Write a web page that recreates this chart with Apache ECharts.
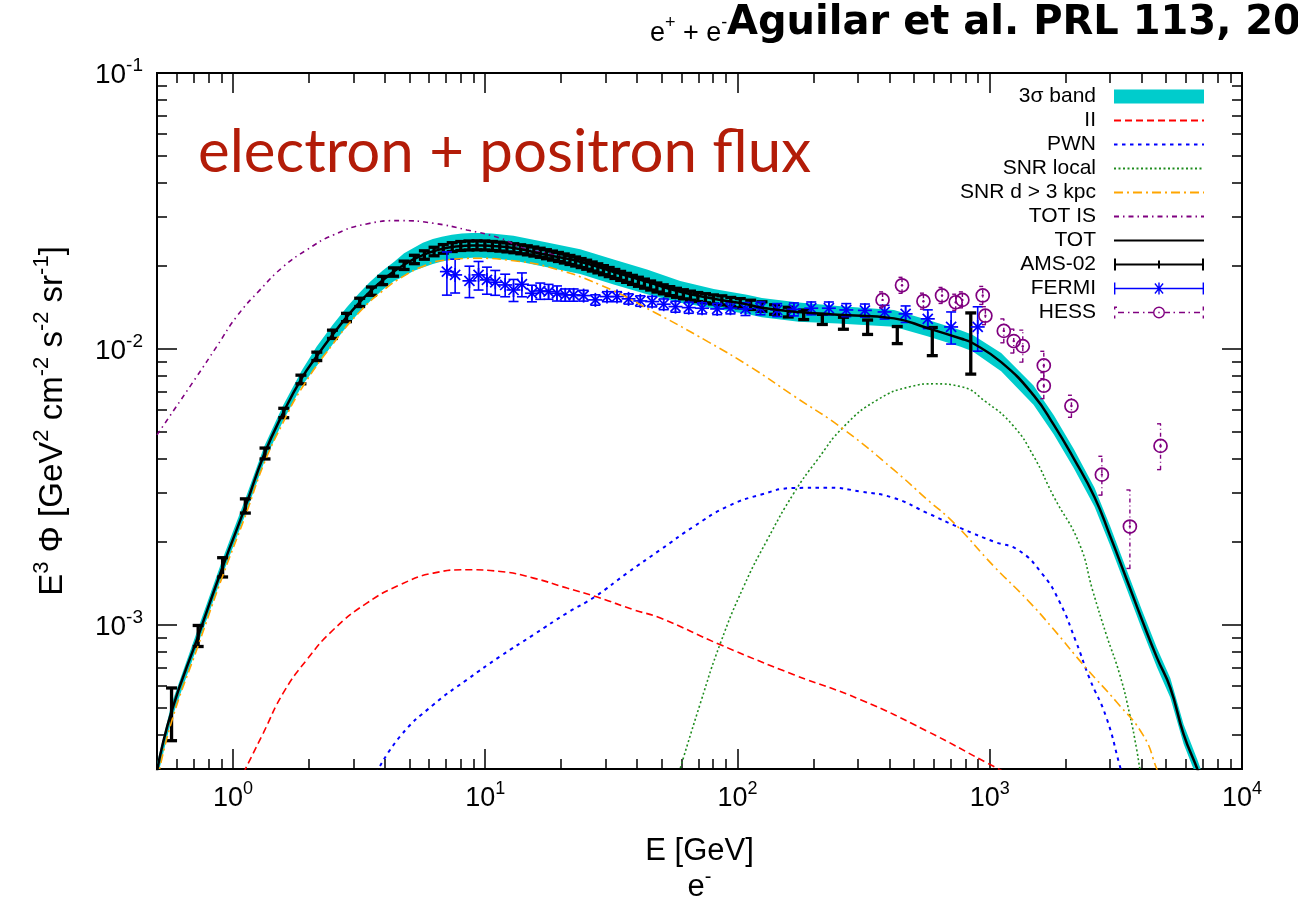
<!DOCTYPE html>
<html><head><meta charset="utf-8">
<script src="https://cdn.jsdelivr.net/npm/echarts@6/dist/echarts.min.js"></script>
<style>html,body{margin:0;padding:0;background:#fff}#c{width:1298px;height:908px}</style>
</head><body><div id="c"></div>
<script>
// ---------- axis ticks ----------
const xMajorTicks = [1, 10, 100, 1000, 10000];
const xMinorTicks = [0.6,0.7,0.8,0.9,2,3,4,5,6,7,8,9,20,30,40,50,60,70,80,90,200,300,400,500,600,700,800,900,2000,3000,4000,5000,6000,7000,8000,9000];
const yMajorTicks = [0.001, 0.01, 0.1];
const yMinorTicks = [4e-4,5e-4,6e-4,7e-4,8e-4,9e-4,0.002,0.003,0.004,0.005,0.006,0.007,0.008,0.009,0.02,0.03,0.04,0.05,0.06,0.07,0.08,0.09];

// ---------- model curves ----------
const totE = [0.5,0.571,0.728,0.91,1.12,1.33,1.58,1.874,2.148,2.487,2.827,3.162,3.498,3.913,4.355,4.77,5.194,5.66,6.2,6.73,7.38,8.08,8.86,9.7,10.63,12.95,17.6,23.8,32.3,43.8,59.3,80.5,109,125,175,250,417,566,767,854,1110,1491,1795,2154,2603,3000,3500,4000,4600,5200,5875,6650,7500];
const totF = [2.95e-4,4.85e-4,9.1e-4,1.62e-3,2.68e-3,4.15e-3,5.85e-3,7.83e-3,9.4e-3,0.01127,0.01306,0.01469,0.01614,0.0177,0.0191,0.02018,0.02109,0.02188,0.02254,0.02301,0.02339,0.0236,0.02371,0.02371,0.0236,0.0232,0.0219,0.0207,0.019,0.0175,0.0161,0.0152,0.0145,0.0141,0.0136,0.0133,0.0129,0.0119,0.0109,0.0105,0.00895,0.0068,0.0053,0.004,0.0029,0.0021,0.00145,0.00105,0.00076,0.00059,0.0004,0.0003,0.00022];
const bandLow = [2.76e-4,4.55e-4,8.53e-4,1.52e-3,2.51e-3,3.89e-3,5.48e-3,7.34e-3,8.67e-3,0.0104,0.01205,0.01355,0.01489,0.01633,0.01762,0.01835,0.01917,0.01973,0.02032,0.02075,0.02109,0.02128,0.02138,0.02138,0.02128,0.02092,0.01975,0.01867,0.01713,0.01578,0.0147,0.01402,0.01338,0.01301,0.01255,0.01237,0.01203,0.0111,0.01017,0.0098,0.00829,0.00627,0.00489,0.00369,0.00268,0.00194,0.00134,0.000969,0.000701,0.000544,0.000369,0.000277,0.000203];
const bandHigh = [3.15e-4,5.17e-4,9.71e-4,1.73e-3,2.86e-3,4.43e-3,6.24e-3,8.35e-3,0.01019,0.01222,0.01416,0.01592,0.0175,0.01919,0.0207,0.0222,0.0232,0.02426,0.025,0.02552,0.02594,0.02617,0.02629,0.02629,0.02617,0.02573,0.02429,0.02296,0.02107,0.01941,0.01763,0.01648,0.01572,0.01528,0.01474,0.0143,0.01383,0.01276,0.01168,0.01126,0.00967,0.00737,0.00575,0.00434,0.00314,0.00228,0.00157,0.001138,0.000824,0.00064,0.000434,0.000325,0.000238];

const iiE = [1.1,1.319,1.583,1.961,2.5,3.393,4.6,6.23,8.46,11.47,15.55,21.1,27.8,38.8,49.5,85.6,167.3,307.6,566,979,1200];
const iiF = [2.9e-4,4.05e-4,5.66e-4,7.46e-4,9.59e-4,1.198e-3,1.396e-3,1.539e-3,1.582e-3,1.56e-3,1.476e-3,1.358e-3,1.26e-3,1.133e-3,1.057e-3,8.46e-4,6.59e-4,5.35e-4,4.11e-4,3.15e-4,2.86e-4];

const pwnE = [3.7,4.6,6.23,8.46,11.47,15.55,21.1,27.3,36.5,49.5,67.1,91,123.4,167.3,227,307.6,417,566,767,1040,1301,1614,1882,2194,2485,2897,3278,3400];
const pwnF = [2.9e-4,3.94e-4,5.13e-4,6.32e-4,7.68e-4,9.2e-4,1.103e-3,1.266e-3,1.539e-3,1.87e-3,2.27e-3,2.68e-3,2.96e-3,3.13e-3,3.14e-3,3.04e-3,2.88e-3,2.54e-3,2.24e-3,2.0e-3,1.862e-3,1.53e-3,1.222e-3,8.72e-4,6.4e-4,4.62e-4,3.08e-4,2.73e-4];

const snrLocalE = [58,71.3,85.6,105.9,131.2,167.3,207.2,264.2,358.4,486,601,767,967,1238,1491,1795,2265,2560,2897,3278,3594,3820,3937,4050];
const snrLocalF = [2.82e-4,5.2e-4,8.58e-4,1.377e-3,2.03e-3,3.0e-3,3.96e-3,5.23e-3,6.53e-3,7.3e-3,7.47e-3,7.3e-3,6.42e-3,5.27e-3,4.09e-3,2.91e-3,1.968e-3,1.329e-3,9.22e-4,6.59e-4,4.7e-4,3.55e-4,3.0e-4,2.6e-4];

const snrFarE = [0.5,0.571,0.728,0.91,1.12,1.33,1.58,1.874,2.487,3.162,3.913,4.77,5.66,6.73,9.55,12.73,17.57,28.8,47,76.6,112.6,167.3,264.2,417,566,721,1040,1408,1770,2409,3177,4062,4596,4800];
const snrFarF = [2.7e-4,4.45e-4,8.4e-4,1.5e-3,2.48e-3,3.85e-3,5.4e-3,7.2e-3,0.0104,0.01355,0.0162,0.0184,0.0199,0.0209,0.0213,0.0209,0.01987,0.017,0.01355,0.0106,0.0086,0.00675,0.0051,0.00364,0.00284,0.00234,0.001627,0.001232,0.000975,0.000697,0.000526,0.000397,0.0003,0.00027];

const totIsE = [0.5,0.718,0.862,1.034,1.28,1.584,1.961,2.5,3.39,4.6,6.23,8.46,11.47,14.19,18,22];
const totIsF = [4.88e-3,7.93e-3,0.01019,0.01309,0.01636,0.01987,0.02284,0.02588,0.02837,0.02917,0.02853,0.02699,0.02518,0.02317,0.0221,0.021];

// ---------- data sets ----------
const amsE = [0.571,0.728,0.91,1.12,1.34,1.59,1.86,2.15,2.48,2.82,3.18,3.54,3.92,4.33,4.77,5.24,5.74,6.27,6.82,7.4,8.0,8.62,9.28,9.97,10.68,11.42,12.19,12.99,13.83,14.69,15.59,16.52,17.49,18.48,19.51,20.58,21.68,22.83,24.01,25.25,26.57,27.96,29.44,31.01,32.66,34.43,36.33,38.34,40.49,42.79,45.27,47.93,50.81,53.93,57.33,61.05,65.13,69.64,74.67,80.32,86.72,94.07,102.6,112.8,125.1,140.3,158.9,183,217,263,328,430,592,841];
const amsF = [4.85e-4,9.14e-4,1.62e-3,2.7e-3,4.18e-3,5.86e-3,7.75e-3,9.4e-3,0.0113,0.013,0.01475,0.0162,0.0177,0.019,0.0201,0.0211,0.0219,0.02255,0.02305,0.0234,0.02362,0.02372,0.02375,0.02372,0.02362,0.0235,0.02335,0.02318,0.02298,0.02278,0.02255,0.02232,0.02205,0.0218,0.02155,0.02128,0.02102,0.02075,0.02048,0.0202,0.0199,0.0196,0.0193,0.019,0.0187,0.0184,0.0181,0.0178,0.01752,0.01725,0.01698,0.0167,0.01645,0.0162,0.01598,0.01578,0.0156,0.01542,0.01527,0.01512,0.015,0.0148,0.01465,0.01445,0.01425,0.0139,0.0136,0.0133,0.0128,0.0124,0.012,0.01125,0.0107,0.0108];
const amsErr = [1.05e-4,8e-5,1.3e-4,1.6e-4,1.9e-4,2.3e-4,2.8e-4,3.3e-4,3.9e-4,4.5e-4,5.1e-4,5.6e-4,6.1e-4,6.6e-4,7.0e-4,7.4e-4,7.7e-4,8.0e-4,8.3e-4,8.6e-4,8.8e-4,8.9e-4,8.9e-4,8.9e-4,8.9e-4,8.8e-4,8.8e-4,8.7e-4,8.6e-4,8.6e-4,8.5e-4,8.4e-4,8.3e-4,8.2e-4,8.1e-4,8.0e-4,7.9e-4,7.8e-4,7.7e-4,7.6e-4,7.5e-4,7.4e-4,7.3e-4,7.2e-4,7.0e-4,6.9e-4,6.8e-4,6.7e-4,6.6e-4,6.5e-4,6.4e-4,6.3e-4,6.2e-4,6.1e-4,6.0e-4,6.0e-4,5.9e-4,5.8e-4,5.8e-4,5.7e-4,5.7e-4,5.6e-4,5.6e-4,5.6e-4,5.6e-4,5.5e-4,5.5e-4,5.3e-4,5.4e-4,6.2e-4,7.2e-4,8.0e-4,1.25e-3,2.7e-3];

const fermiE = [7.05,7.6,8.66,9.41,10.16,10.96,12.0,12.95,13.98,15.32,16.53,17.83,19.25,20.77,22.41,24.55,27.33,30.4,33.3,37.0,41.2,45.9,51.0,56.8,64.1,72.4,83.1,93.8,107.6,123.4,143.7,167.3,196.1,230.3,270,320,383,464,568,703,896];
const fermiF = [0.01906,0.01854,0.01764,0.01854,0.01778,0.01744,0.01705,0.01635,0.01715,0.01591,0.01622,0.01613,0.01591,0.01569,0.01569,0.0156,0.01505,0.01547,0.01547,0.01518,0.01492,0.01484,0.01452,0.01423,0.01411,0.01404,0.01396,0.01404,0.01396,0.01404,0.01384,0.01392,0.01404,0.01404,0.01384,0.01379,0.01361,0.01339,0.01285,0.01201,0.01201];
const fermiErr = [0.0034,0.0026,0.0023,0.0022,0.002,0.0018,0.0016,0.0015,0.0017,0.0011,0.0011,0.001,0.001,0.0008,0.0008,0.0007,6.5e-4,6.5e-4,6.5e-4,6.5e-4,6.5e-4,6.5e-4,6.5e-4,6.5e-4,6.5e-4,6.5e-4,6.5e-4,6.5e-4,7.5e-4,7.5e-4,7.5e-4,7.5e-4,7.5e-4,7.5e-4,7.5e-4,7.5e-4,7.8e-4,9.2e-4,1.0e-3,1.6e-3,2.2e-3];

const hessE = [376,449,546,647,733,779,938,961,1137,1245,1352,1638,1638,2108,2783,3594,4754];
const hessF = [0.01505,0.017,0.01489,0.01562,0.01476,0.01505,0.01562,0.01319,0.01162,0.01067,0.01023,0.00871,0.00735,0.00621,0.0035,0.00227,0.00445];
const hessLo = [0.01408,0.0159,0.01393,0.01461,0.0138,0.01408,0.01449,0.01224,0.01052,0.00966,0.00895,0.0078,0.0066,0.00565,0.00295,0.0016,0.00365];
const hessHi = [0.01609,0.01817,0.01592,0.0167,0.01578,0.01609,0.01684,0.01422,0.01284,0.01179,0.01169,0.0098,0.0082,0.00679,0.00408,0.00308,0.00535];

// ---------- styling ----------
const FONT = "'Liberation Sans', Arial, Helvetica, sans-serif";
const C_BAND = '#00cccc', C_II = '#ff0000', C_PWN = '#0000ff', C_LOC = '#1e8c1e', C_FAR = '#ffa500', C_IS = '#800080', C_TOT = '#000000', C_FERMI = '#0000ff', C_HESS = '#800080';

function zip(a, b) { return a.map((v, i) => [v, b[i]]); }
function supRich(font, base, sup, baseLH) {
  return {
    b: { fontFamily: font, fontSize: base, fontWeight: 'normal', color: '#000', lineHeight: baseLH, verticalAlign: 'bottom' },
    s: { fontFamily: font, fontSize: sup, fontWeight: 'normal', color: '#000', lineHeight: sup + 2, verticalAlign: 'top' }
  };
}
function pow10Label(v) {
  const n = Math.round(Math.log10(v));
  return '{b|10}{s|' + n + '}';
}

function xAx(pos, ticks, len, withLabels) {
  const a = {
    type: 'log', logBase: 10, min: 0.5, max: 10000, position: pos,
    axisLine: { show: false }, splitLine: { show: false },
    axisTick: { show: true, inside: true, length: len, customValues: ticks, lineStyle: { color: '#000', width: 1.5 } },
    axisLabel: { show: false }
  };
  if (withLabels) {
    a.axisLabel = { show: true, customValues: ticks, margin: 11, formatter: pow10Label, rich: supRich(FONT, 27, 18, 32), showMinLabel: true, showMaxLabel: true };
    a.name = '{b|E [GeV]}\n{b|e}{s|-}';
    a.nameLocation = 'middle';
    a.nameGap = 62;
    a.nameTextStyle = { rich: supRich(FONT, 31, 20, 36) };
  }
  return a;
}
function yAx(pos, ticks, len, withLabels) {
  const a = {
    type: 'log', logBase: 10, min: 3e-4, max: 0.1, position: pos,
    axisLine: { show: false }, splitLine: { show: false },
    axisTick: { show: true, inside: true, length: len, customValues: ticks, lineStyle: { color: '#000', width: 1.5 } },
    axisLabel: { show: false }
  };
  if (withLabels) {
    a.axisLabel = { show: true, customValues: ticks, margin: 14, formatter: pow10Label, rich: supRich(FONT, 28, 19, 33), showMinLabel: true, showMaxLabel: true };
    a.name = '{b|E}{s|3}{b| Φ [GeV}{s|2}{b| cm}{s|-2}{b| s}{s|-2}{b| sr}{s|-1}{b|]}';
    a.nameLocation = 'middle';
    a.nameRotate = 90;
    a.nameGap = 88;
    a.nameTextStyle = { rich: supRich(FONT, 33, 22, 38) };
  }
  return a;
}

function errBarRenderer(color, width, capHalf, dash, marker) {
  return function (params, api) {
    const x = api.value(0), y = api.value(1), lo = api.value(2), hi = api.value(3);
    const pc = api.coord([x, y]), pl = api.coord([x, lo]), ph = api.coord([x, hi]);
    const st = { stroke: color, lineWidth: width, lineDash: dash || null, fill: null };
    const ch = [
      { type: 'line', shape: { x1: pc[0], y1: pl[1], x2: pc[0], y2: ph[1] }, style: st },
      { type: 'line', shape: { x1: pc[0] - capHalf, y1: pl[1], x2: pc[0] + capHalf, y2: pl[1] }, style: st },
      { type: 'line', shape: { x1: pc[0] - capHalf, y1: ph[1], x2: pc[0] + capHalf, y2: ph[1] }, style: st }
    ];
    if (marker === 'star') {
      const r = 7, d = r * 0.72;
      const ms = { stroke: color, lineWidth: 1.7 };
      ch.push({ type: 'line', shape: { x1: pc[0], y1: pc[1] - r, x2: pc[0], y2: pc[1] + r }, style: ms });
      ch.push({ type: 'line', shape: { x1: pc[0] - r, y1: pc[1], x2: pc[0] + r, y2: pc[1] }, style: ms });
      ch.push({ type: 'line', shape: { x1: pc[0] - d, y1: pc[1] - d, x2: pc[0] + d, y2: pc[1] + d }, style: ms });
      ch.push({ type: 'line', shape: { x1: pc[0] - d, y1: pc[1] + d, x2: pc[0] + d, y2: pc[1] - d }, style: ms });
    } else if (marker === 'circle') {
      ch.push({ type: 'circle', shape: { cx: pc[0], cy: pc[1], r: 6.5 }, style: { stroke: color, lineWidth: 1.7, fill: 'rgba(255,255,255,0)' } });
      ch.push({ type: 'circle', shape: { cx: pc[0], cy: pc[1], r: 1.2 }, style: { fill: color } });
    }
    return { type: 'group', children: ch };
  };
}

function lineSeries(name, E, F, color, width, dash) {
  return {
    name: name, type: 'line', data: zip(E, F), xAxisIndex: 0, yAxisIndex: 0,
    symbol: 'none', showSymbol: false, smooth: 0.5, clip: true,
    lineStyle: { color: color, width: width, type: dash || 'solid' },
    itemStyle: { color: color },
    emphasis: { disabled: true }, silent: true, animation: false
  };
}

const amsData = amsE.map((e, i) => [e, amsF[i], amsF[i] - amsErr[i], amsF[i] + amsErr[i]]);
const fermiData = fermiE.map((e, i) => [e, fermiF[i], fermiF[i] - fermiErr[i], fermiF[i] + fermiErr[i]]);
const hessData = hessE.map((e, i) => [e, hessF[i], hessLo[i], hessHi[i]]);

const HIDE_SYM = { color: 'rgba(0,0,0,0)', borderWidth: 0 };
const ICON_AMS = 'path://M0,6H90V8H0Z M0,1H2V13H0Z M88,1H90V13H88Z M44,3H46V11H44Z';
const ICON_FERMI = 'path://M0,6.3H90V7.7H0Z M0,1H1.4V13H0Z M88.6,1H90V13H88.6Z M44.3,1H45.7V13H44.3Z M40.4,2.6L41.4,1.6L49.6,11.4L48.6,12.4Z M48.6,1.6L49.6,2.6L41.4,12.4L40.4,11.4Z';
const ICON_HESS = 'path://M0,1H1.4V4H0Z M0,1H3V2.4H0Z M0,10H1.4V13H0Z M4,6.3H10V7.7H4Z M14,6.3H15.5V7.7H14Z M19,6.3H25V7.7H19Z M29,6.3H30.5V7.7H29Z M34,6.3H39V7.7H34Z M51,6.3H56V7.7H51Z M59.5,6.3H61V7.7H59.5Z M65,6.3H71V7.7H65Z M74.5,6.3H76V7.7H74.5Z M80,6.3H86V7.7H80Z M88.6,1H90V5H88.6Z M88.6,10H90V13H88.6Z M51,7A6,6 0 1,0 39,7A6,6 0 1,0 51,7Z M49.6,7A4.6,4.6 0 1,1 40.4,7A4.6,4.6 0 1,1 49.6,7Z M44.3,6.3H45.7V7.7H44.3Z';

const option = {
  animation: false,
  backgroundColor: '#ffffff',
  title: [
    { text: '{b|e}{s|+}{b| + e}{s|-}', left: 645, top: 9,
      textStyle: { fontFamily: FONT, fontSize: 27, fontWeight: 'normal', color: '#000', lineHeight: 33, rich: supRich(FONT, 27, 18, 33) } },
    { text: 'Aguilar et al. PRL 113, 2014', left: 722, top: -1,
      textStyle: { fontFamily: "'DejaVu Sans', sans-serif", fontWeight: 'bold', fontSize: 40, color: '#000' } },
    { text: 'electron + positron flux', left: 193, top: 118,
      textStyle: { fontFamily: "Lato, 'Open Sans', sans-serif", fontWeight: 'normal', fontSize: 60, color: '#b31c08' } }
  ],
  grid: { left: 157, right: 56, top: 73, bottom: 139, show: true, borderColor: '#000', borderWidth: 2, backgroundColor: 'rgba(0,0,0,0)' },
  legend: {
    orient: 'vertical', right: 88, top: 81, align: 'right',
    itemWidth: 90, itemHeight: 14, itemGap: 3, selectedMode: false,
    textStyle: { fontFamily: FONT, fontSize: 21, color: '#000', lineHeight: 14, padding: [0, 13, 0, 0] },
    data: [
      { name: '3σ band', icon: 'rect' },
      { name: 'II', itemStyle: HIDE_SYM },
      { name: 'PWN', itemStyle: HIDE_SYM },
      { name: 'SNR local', itemStyle: HIDE_SYM },
      { name: 'SNR d > 3 kpc', itemStyle: HIDE_SYM },
      { name: 'TOT IS', itemStyle: HIDE_SYM },
      { name: 'TOT', itemStyle: HIDE_SYM },
      { name: 'AMS-02', icon: ICON_AMS },
      { name: 'FERMI', icon: ICON_FERMI },
      { name: 'HESS', icon: ICON_HESS }
    ]
  },
  xAxis: [
    xAx('bottom', xMajorTicks, 20, true),
    xAx('bottom', xMinorTicks, 10, false),
    xAx('top', xMajorTicks, 20, false),
    xAx('top', xMinorTicks, 10, false)
  ],
  yAxis: [
    yAx('left', yMajorTicks, 20, true),
    yAx('left', yMinorTicks, 10, false),
    yAx('right', yMajorTicks, 20, false),
    yAx('right', yMinorTicks, 10, false)
  ],
  series: [
    {
      name: '3σ band', type: 'custom', xAxisIndex: 0, yAxisIndex: 0, clip: true,
      data: [[1, 0.01]], itemStyle: { color: C_BAND }, silent: true, animation: false,
      renderItem: function (params, api) {
        const pts = [];
        for (let i = 0; i < totE.length; i++) pts.push(api.coord([totE[i], bandHigh[i]]));
        for (let i = totE.length - 1; i >= 0; i--) pts.push(api.coord([totE[i], bandLow[i]]));
        return { type: 'polygon', shape: { points: pts, smooth: 0 }, style: { fill: C_BAND } };
      }
    },
    lineSeries('II', iiE, iiF, C_II, 1.6, [7, 4]),
    lineSeries('PWN', pwnE, pwnF, C_PWN, 2, [3.5, 4.5]),
    lineSeries('SNR local', snrLocalE, snrLocalF, C_LOC, 1.6, [2, 2.5]),
    lineSeries('SNR d > 3 kpc', snrFarE, snrFarF, C_FAR, 1.6, [9, 4, 2, 4]),
    lineSeries('TOT IS', totIsE, totIsF, C_IS, 1.6, [5, 4, 1.5, 4]),
    lineSeries('TOT', totE, totF, C_TOT, 2.5, 'solid'),
    {
      name: 'AMS-02', type: 'custom', xAxisIndex: 0, yAxisIndex: 0, clip: true, silent: true, animation: false,
      data: amsData, encode: { x: 0, y: 1 }, itemStyle: { color: '#000' },
      renderItem: errBarRenderer('#000', 3.3, 5.5, null, null)
    },
    {
      name: 'FERMI', type: 'custom', xAxisIndex: 0, yAxisIndex: 0, clip: true, silent: true, animation: false,
      data: fermiData, encode: { x: 0, y: 1 }, itemStyle: { color: C_FERMI },
      renderItem: errBarRenderer(C_FERMI, 1.6, 5, null, 'star')
    },
    {
      name: 'HESS', type: 'custom', xAxisIndex: 0, yAxisIndex: 0, clip: true, silent: true, animation: false,
      data: hessData, encode: { x: 0, y: 1 }, itemStyle: { color: C_HESS },
      renderItem: errBarRenderer(C_HESS, 1.4, 3.5, [4, 3, 1, 3], 'circle')
    }
  ]
};

const chart = echarts.init(document.getElementById('c'), null, { renderer: 'canvas', width: 1298, height: 908 });
chart.setOption(option);
</script>
</body></html>
